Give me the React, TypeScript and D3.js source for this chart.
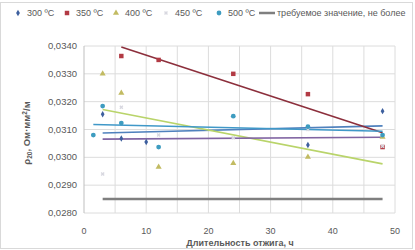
import React, { useEffect, useRef } from 'react';
import * as d3 from 'd3';

// annealing time, h / resistivity, Ohm·mm²/m
const hours300 = [3, 6, 10, 36, 48];
const rho300 = [0.03155, 0.03068, 0.03055, 0.03044, 0.03166];
const hours350 = [6, 12, 24, 36, 48];
const rho350 = [0.03364, 0.0335, 0.033, 0.03227, 0.03037];
const hours400 = [3, 6, 12, 24, 36, 48];
const rho400 = [0.033, 0.03231, 0.02965, 0.02979, 0.03001, 0.03073];
const hours450 = [3, 6, 12, 24, 36, 48];
const rho450 = [0.0294, 0.0318, 0.0308, 0.0307, 0.031, 0.0304];
const hours500 = [1.5, 3, 6, 12, 24, 36, 48];
const rho500 = [0.0308, 0.03184, 0.03123, 0.03037, 0.03148, 0.0311, 0.0308];
const hoursReq = [3, 6, 12, 24, 36, 48];
const rhoReq = [0.0285, 0.0285, 0.0285, 0.0285, 0.0285, 0.0285];

const seriesNames = ['300 ºC', '350 ºC', '400 ºC', '450 ºC', '500 ºC'];
const reqName = 'требуемое значение, не более';
const yTicks = [0.028, 0.029, 0.03, 0.031, 0.032, 0.033, 0.034];
const xTicks = [0, 10, 20, 30, 40, 50];

const W = 415;
const H = 250;

const App = () => {
  const ref = useRef<SVGSVGElement>(null);

  useEffect(() => {
    const svg = d3.select(ref.current);
    svg.selectAll('*').remove();

    const series = [
      { name: seriesNames[0], x: hours300, y: rho300, fill: '#3d5f9e', trend: '#4f81bd', sym: d3.symbolDiamond, size: 12 },
      { name: seriesNames[1], x: hours350, y: rho350, fill: '#b23a44', trend: '#8c2f3c', sym: d3.symbolSquare, size: 20 },
      { name: seriesNames[2], x: hours400, y: rho400, fill: '#c2bb62', trend: '#b9d46a', sym: d3.symbolTriangle, size: 16 },
      { name: seriesNames[3], x: hours450, y: rho450, fill: '#d8d8e0', trend: '#8064a2', sym: d3.symbolCross, size: 10 },
      { name: seriesNames[4], x: hours500, y: rho500, fill: '#3e9cc0', trend: '#3f98c8', sym: d3.symbolCircle, size: 18 },
    ];

    const x = d3.scaleLinear().domain([0, 50]).range([84, 395]);
    const y = d3.scaleLinear().domain([0.028, 0.034]).range([213, 46]);
    const font = '"Liberation Sans", Arial, sans-serif';
    const textCol = '#595959';

    svg.append('rect')
      .attr('x', 0.5).attr('y', 2.5)
      .attr('width', W - 3).attr('height', H - 4)
      .attr('fill', 'white').attr('stroke', '#d9d9d9');

    // grid
    svg.append('g').selectAll('line')
      .data(yTicks)
      .enter().append('line')
      .attr('x1', x(0)).attr('x2', x(50))
      .attr('y1', d => y(d)).attr('y2', d => y(d))
      .attr('stroke', '#dcdcdc');
    svg.append('g').selectAll('line')
      .data(d3.range(5, 55, 5))
      .enter().append('line')
      .attr('x1', d => x(d)).attr('x2', d => x(d))
      .attr('y1', y(0.034)).attr('y2', y(0.028))
      .attr('stroke', '#dcdcdc');
    svg.append('line')
      .attr('x1', x(0)).attr('x2', x(0))
      .attr('y1', y(0.034)).attr('y2', y(0.028))
      .attr('stroke', '#bfbfbf');

    const fmt = (v: number) => v.toFixed(4).replace('.', ',');
    svg.append('g').selectAll('text')
      .data(yTicks)
      .enter().append('text')
      .attr('x', 77).attr('y', d => y(d) + 3)
      .attr('text-anchor', 'end')
      .attr('font-family', font).attr('font-size', 9.5)
      .attr('fill', textCol)
      .text(d => fmt(d));
    svg.append('g').selectAll('text')
      .data(xTicks)
      .enter().append('text')
      .attr('x', d => x(d)).attr('y', 234)
      .attr('text-anchor', 'middle')
      .attr('font-family', font).attr('font-size', 9)
      .attr('fill', textCol)
      .text(d => d);

    // required value
    const line = d3.line<number>().x((d, i) => x(hoursReq[i])).y(d => y(d));
    svg.append('path')
      .attr('d', line(rhoReq))
      .attr('fill', 'none')
      .attr('stroke', '#7f7f7f')
      .attr('stroke-width', 2.5);

    // linear trendlines
    series.forEach(s => {
      const mx = d3.mean(s.x)!;
      const my = d3.mean(s.y)!;
      const sxy = d3.sum(s.x, (v, i) => (v - mx) * (s.y[i] - my));
      const sxx = d3.sum(s.x, v => (v - mx) * (v - mx));
      const k = sxy / sxx;
      const x0 = d3.min(s.x)!;
      const x1 = d3.max(s.x)!;
      svg.append('line')
        .attr('x1', x(x0)).attr('y1', y(my + k * (x0 - mx)))
        .attr('x2', x(x1)).attr('y2', y(my + k * (x1 - mx)))
        .attr('stroke', s.trend)
        .attr('stroke-width', 1.6);
    });

    // points
    series.forEach(s => {
      svg.append('g').selectAll('path')
        .data(s.y)
        .enter().append('path')
        .attr('transform', (d, i) => `translate(${x(s.x[i])},${y(d)})${s.sym === d3.symbolCross ? ' rotate(45)' : ''}`)
        .attr('d', d3.symbol(s.sym, s.size)())
        .attr('fill', s.fill);
    });

    // legend
    const lx = [18, 67, 116, 166, 219];
    series.forEach((s, i) => {
      svg.append('path')
        .attr('transform', `translate(${lx[i]},13)${s.sym === d3.symbolCross ? ' rotate(45)' : ''}`)
        .attr('d', d3.symbol(s.sym, s.size)())
        .attr('fill', s.fill);
      svg.append('text')
        .attr('x', lx[i] + 9).attr('y', 16)
        .attr('font-family', font).attr('font-size', 9)
        .attr('fill', textCol)
        .text(s.name);
    });
    svg.append('line')
      .attr('x1', 259).attr('x2', 275)
      .attr('y1', 13).attr('y2', 13)
      .attr('stroke', '#7f7f7f').attr('stroke-width', 2.5);
    svg.append('text')
      .attr('x', 277).attr('y', 16)
      .attr('font-family', font).attr('font-size', 9)
      .attr('fill', textCol)
      .text(reqName);

    // axis titles
    svg.append('text')
      .attr('x', 240).attr('y', 246)
      .attr('text-anchor', 'middle')
      .attr('font-family', font).attr('font-size', 9).attr('font-weight', 'bold')
      .attr('fill', textCol)
      .text('Длительность отжига, ч');
    const yt = svg.append('text')
      .attr('transform', 'translate(30,133) rotate(-90)')
      .attr('text-anchor', 'middle')
      .attr('font-family', font).attr('font-size', 9.5).attr('font-weight', 'bold')
      .attr('fill', textCol);
    yt.append('tspan').text('ρ');
    yt.append('tspan').attr('font-size', 6.5).attr('dy', 2).text('20');
    yt.append('tspan').attr('dy', -2).text(', Ом·мм');
    yt.append('tspan').attr('font-size', 6.5).attr('dy', -3).text('2');
    yt.append('tspan').attr('dy', 3).text('/м');
  }, []);

  return (
    <svg ref={ref} width={W} height={H}
      style={{ position: 'absolute', left: 0, top: 0, background: 'white' }} />
  );
};

export default App;
